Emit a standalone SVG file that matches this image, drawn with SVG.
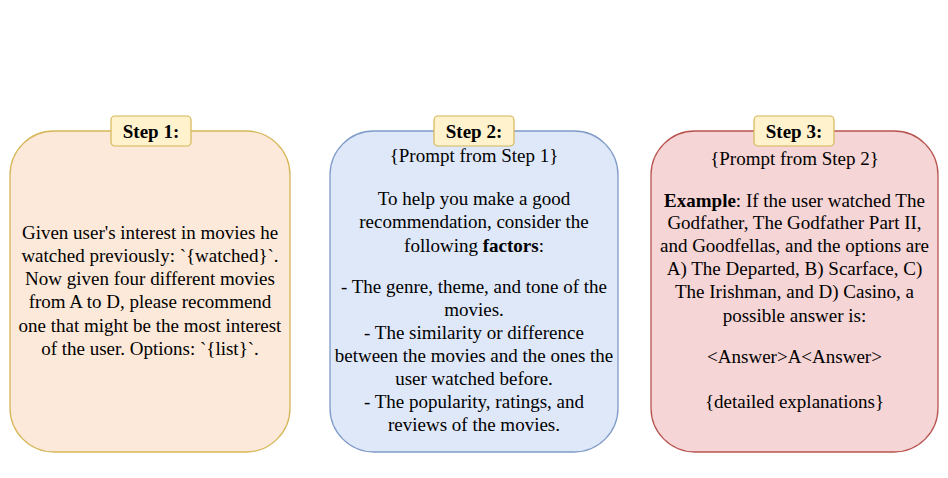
<svg xmlns="http://www.w3.org/2000/svg" width="948" height="478" viewBox="0 0 948 478">
<style>
.t{font-family:"Liberation Serif","Times New Roman",serif;font-size:19px;fill:#000;text-anchor:middle}
.b{font-weight:bold}
.lab{fill:#fff2cc;stroke:#d6b656;stroke-width:1.2}
</style>
<rect width="948" height="478" fill="#fff"/>
<g id="connectors"></g>
<g id="step1">
<rect x="10" y="131" width="280" height="321" rx="44" fill="#fde9d9" stroke="#d6b656" stroke-width="1.3"/>
<text class="t"><tspan x="150" y="239">Given user's interest in movies he</tspan><tspan x="150" y="262">watched previously: `{watched}`.</tspan><tspan x="150" y="285">Now given four different movies</tspan><tspan x="150" y="308">from A to D, please recommend</tspan><tspan x="150" y="332">one that might be the most interest</tspan><tspan x="150" y="355">of the user. Options: `{list}`.</tspan></text>
</g>
<g id="label1">
<rect class="lab" x="111" y="116" width="80" height="30" rx="4"/>
<text class="t b" x="151" y="137.5">Step 1:</text>
</g>
<g id="step2">
<rect x="330" y="131" width="288" height="321" rx="44" fill="#dfe8f9" stroke="#7f9bc8" stroke-width="1.3"/>
<text class="t"><tspan x="474" y="162">{Prompt from Step 1}</tspan><tspan x="474" y="205">To help you make a good</tspan><tspan x="474" y="228">recommendation, consider the</tspan><tspan x="474" y="252">following <tspan class="b">factors</tspan>:</tspan><tspan x="474" y="293">- The genre, theme, and tone of the</tspan><tspan x="474" y="316">movies.</tspan><tspan x="474" y="339">- The similarity or difference</tspan><tspan x="474" y="362">between the movies and the ones the</tspan><tspan x="474" y="385">user watched before.</tspan><tspan x="474" y="408">- The popularity, ratings, and</tspan><tspan x="474" y="431">reviews of the movies.</tspan></text>
</g>
<g id="label2">
<rect class="lab" x="434" y="116" width="80" height="30" rx="4"/>
<text class="t b" x="474" y="137.5">Step 2:</text>
</g>
<g id="step3">
<rect x="651" y="131" width="287" height="321" rx="44" fill="#f5d5d5" stroke="#b85450" stroke-width="1.3"/>
<text class="t"><tspan x="794.5" y="165">{Prompt from Step 2}</tspan><tspan x="794.5" y="207"><tspan class="b">Example</tspan>: If the user watched The</tspan><tspan x="794.5" y="229">Godfather, The Godfather Part II,</tspan><tspan x="794.5" y="252">and Goodfellas, and the options are</tspan><tspan x="794.5" y="275">A) The Departed, B) Scarface, C)</tspan><tspan x="794.5" y="298">The Irishman, and D) Casino, a</tspan><tspan x="794.5" y="322">possible answer is:</tspan><tspan x="794.5" y="363">&lt;Answer&gt;A&lt;Answer&gt;</tspan><tspan x="794.5" y="408">{detailed explanations}</tspan></text>
</g>
<g id="label3">
<rect class="lab" x="754" y="116" width="80" height="30" rx="4"/>
<text class="t b" x="794" y="137.5">Step 3:</text>
</g>
</svg>
